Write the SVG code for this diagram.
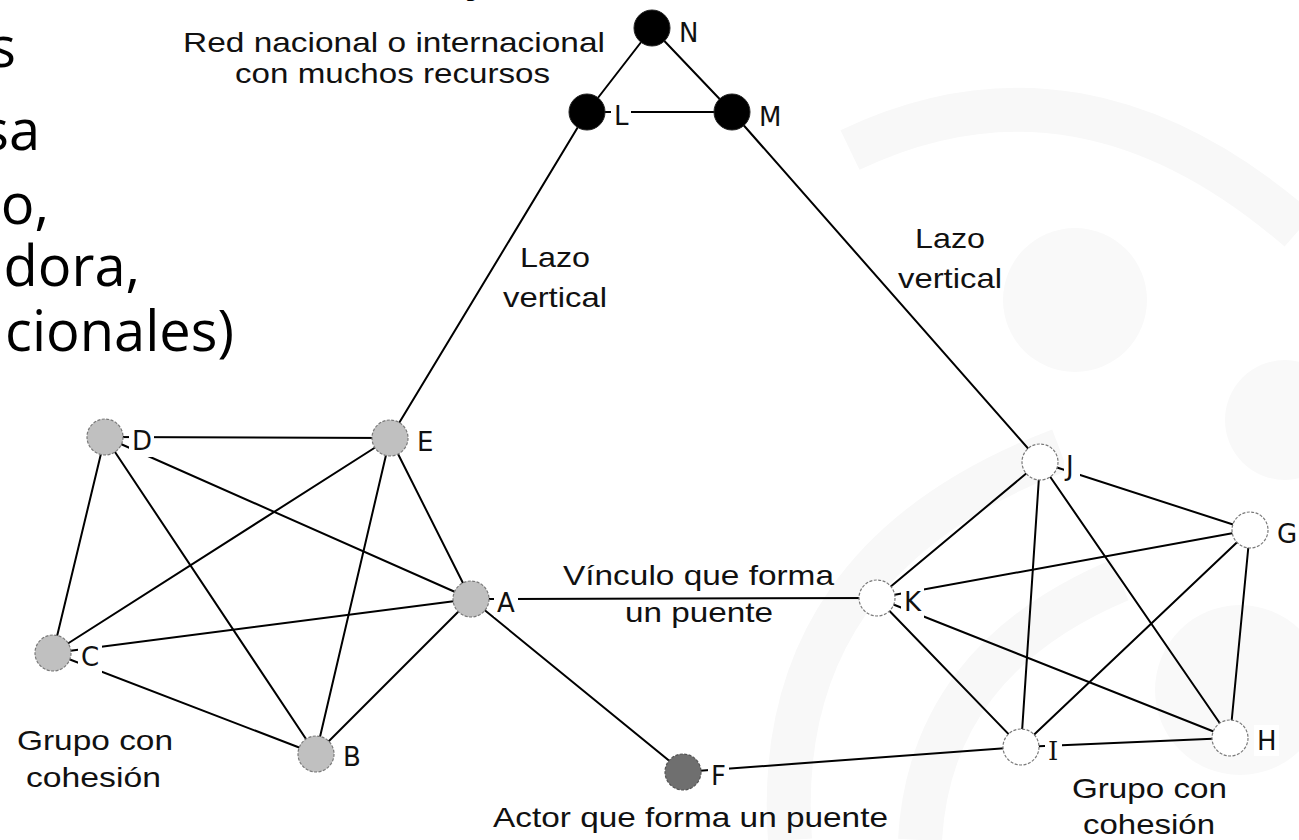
<svg xmlns="http://www.w3.org/2000/svg" width="1299" height="840" viewBox="0 0 1299 840">
<style>
.edge{stroke:#000;stroke-width:2;fill:none;stroke-linecap:round}
.nb{fill:#000;stroke:#222;stroke-width:1}
.ng{fill:#c0c0c0;stroke:#7a7a7a;stroke-width:1.2;stroke-dasharray:3 1.5}
.nd{fill:#6f6f6f;stroke:#555;stroke-width:1.2;stroke-dasharray:3 1.5}
.nw{fill:#fff;stroke:#7a7a7a;stroke-width:1.2;stroke-dasharray:3 1.5}
.lbg{fill:#fff}
.lbl{font-family:"DejaVu Sans","Liberation Sans",sans-serif;font-size:26px;fill:#111}
.lbls{font-family:"DejaVu Serif","Liberation Serif",serif;font-size:26px;fill:#111}
.cap{font-family:"Liberation Sans",Arial,sans-serif;font-size:28px;fill:#111}
.big{font-family:"Open Sans","Noto Sans",sans-serif;font-size:56px;fill:#000;text-anchor:end}
.wm{fill:none;stroke:#f8f8f8;stroke-width:44}
.wmf{fill:#f9f9f9}
</style>
<rect width="1299" height="840" fill="#fff"/>
<g id="watermark">
<path class="wm" d="M 850 150 Q 1080 40 1299 230"/>
<circle class="wmf" cx="1075" cy="300" r="72"/>
<path class="wm" d="M 790 840 Q 770 560 1060 450"/>
<path class="wm" d="M 920 840 Q 930 660 1120 580"/>
<circle class="wmf" cx="1285" cy="420" r="60"/>
<circle class="wmf" cx="1240" cy="690" r="85"/>
</g>
<g id="left-text">
<text class="big" x="16" y="67">s</text>
<text class="big" x="40" y="150">sa</text>
<text class="big" x="49" y="224">o,</text>
<text class="big" x="140" y="286">ndora,</text>
<text class="big" x="234" y="351">cionales)</text>
<text x="476" y="-7" style="font-family:'Liberation Sans',sans-serif;font-size:40px;font-weight:bold;text-anchor:middle">y</text>
</g>
<g id="connectors">
<line class="edge" x1="652" y1="28" x2="587" y2="112"/>
<line class="edge" x1="652" y1="28" x2="732" y2="112"/>
<line class="edge" x1="587" y1="112" x2="732" y2="112"/>
<line class="edge" x1="587" y1="112" x2="390" y2="438"/>
<line class="edge" x1="732" y1="112" x2="1040" y2="462"/>
<line class="edge" x1="105" y1="437" x2="390" y2="438"/>
<line class="edge" x1="105" y1="437" x2="53" y2="653"/>
<line class="edge" x1="105" y1="437" x2="316" y2="754"/>
<line class="edge" x1="105" y1="437" x2="471" y2="599"/>
<line class="edge" x1="390" y1="438" x2="53" y2="653"/>
<line class="edge" x1="390" y1="438" x2="316" y2="754"/>
<line class="edge" x1="390" y1="438" x2="471" y2="599"/>
<line class="edge" x1="53" y1="653" x2="471" y2="599"/>
<line class="edge" x1="53" y1="653" x2="316" y2="754"/>
<line class="edge" x1="471" y1="599" x2="316" y2="754"/>
<line class="edge" x1="471" y1="599" x2="877" y2="598"/>
<line class="edge" x1="471" y1="599" x2="683" y2="772"/>
<line class="edge" x1="683" y1="772" x2="1021" y2="747"/>
<line class="edge" x1="1040" y1="462" x2="877" y2="598"/>
<line class="edge" x1="1040" y1="462" x2="1021" y2="747"/>
<line class="edge" x1="1040" y1="462" x2="1230" y2="738"/>
<line class="edge" x1="1040" y1="462" x2="1250" y2="530"/>
<line class="edge" x1="877" y1="598" x2="1250" y2="530"/>
<line class="edge" x1="877" y1="598" x2="1021" y2="747"/>
<line class="edge" x1="877" y1="598" x2="1230" y2="738"/>
<line class="edge" x1="1250" y1="530" x2="1021" y2="747"/>
<line class="edge" x1="1250" y1="530" x2="1230" y2="738"/>
<line class="edge" x1="1021" y1="747" x2="1230" y2="738"/>
</g>
<g id="node-N"><circle class="nb" cx="652" cy="28" r="18"/><rect class="lbg" x="676" y="15" width="25" height="31"/><text class="lbl" x="679" y="42">N</text></g>
<g id="node-L"><circle class="nb" cx="587" cy="112" r="18"/><rect class="lbg" x="611" y="99" width="20" height="31"/><text class="lbl" x="614" y="125">L</text></g>
<g id="node-M"><circle class="nb" cx="732" cy="112" r="18"/><rect class="lbg" x="756" y="99" width="28" height="31"/><text class="lbl" x="759" y="126">M</text></g>
<g id="node-E"><circle class="ng" cx="390" cy="438" r="18"/><rect class="lbg" x="414" y="425" width="22" height="31"/><text class="lbl" x="417" y="451">E</text></g>
<g id="node-D"><circle class="ng" cx="105" cy="437" r="18"/><rect class="lbg" x="129" y="424" width="25" height="33"/><text class="lbl" x="132" y="450">D</text></g>
<g id="node-A"><circle class="ng" cx="471" cy="599" r="18"/><rect class="lbg" x="494" y="586" width="24" height="31"/><text class="lbl" x="497" y="612">A</text></g>
<g id="node-C"><circle class="ng" cx="53" cy="653" r="18"/><rect class="lbg" x="78" y="638" width="24" height="35"/><text class="lbl" x="81" y="666">C</text></g>
<g id="node-B"><circle class="ng" cx="316" cy="754" r="18"/><rect class="lbg" x="340" y="741" width="23" height="31"/><text class="lbl" x="343" y="766">B</text></g>
<g id="node-F"><circle class="nd" cx="683" cy="772" r="18"/><rect class="lbg" x="708" y="759" width="21" height="31"/><text class="lbl" x="711" y="785">F</text></g>
<g id="node-K"><circle class="nw" cx="877" cy="598" r="18"/><rect class="lbg" x="901" y="583" width="23" height="35"/><text class="lbl" x="904" y="611">K</text></g>
<g id="node-J"><circle class="nw" cx="1040" cy="462" r="18"/><rect class="lbg" x="1064" y="449" width="16" height="31"/><text class="lbl" x="1066" y="475">J</text></g>
<g id="node-G"><circle class="nw" cx="1250" cy="530" r="18"/><rect class="lbg" x="1274" y="517" width="25" height="31"/><text class="lbl" x="1277" y="543">G</text></g>
<g id="node-H"><circle class="nw" cx="1230" cy="738" r="18"/><rect class="lbg" x="1254" y="725" width="25" height="31"/><text class="lbl" x="1257" y="750">H</text></g>
<g id="node-I"><circle class="nw" cx="1021" cy="747" r="18"/><rect class="lbg" x="1045" y="734" width="17" height="31"/><text class="lbls" x="1048" y="760">I</text></g>
<g id="captions">
<text class="cap" x="183" y="52" font-size="26" textLength="422" lengthAdjust="spacingAndGlyphs">Red nacional o internacional</text>
<text class="cap" x="235" y="83" font-size="26" textLength="315" lengthAdjust="spacingAndGlyphs">con muchos recursos</text>
<text class="cap" x="520" y="267" textLength="70" lengthAdjust="spacingAndGlyphs">Lazo</text>
<text class="cap" x="503" y="307" textLength="104" lengthAdjust="spacingAndGlyphs">vertical</text>
<text class="cap" x="915" y="248" textLength="70" lengthAdjust="spacingAndGlyphs">Lazo</text>
<text class="cap" x="898" y="288" textLength="104" lengthAdjust="spacingAndGlyphs">vertical</text>
<text class="cap" x="563" y="585" textLength="271" lengthAdjust="spacingAndGlyphs">Vínculo que forma</text>
<text class="cap" x="625" y="622" textLength="148" lengthAdjust="spacingAndGlyphs">un puente</text>
<text class="cap" x="493" y="827" textLength="395" lengthAdjust="spacingAndGlyphs">Actor que forma un puente</text>
<text class="cap" x="17" y="750" textLength="156" lengthAdjust="spacingAndGlyphs">Grupo con</text>
<text class="cap" x="26" y="787" textLength="135" lengthAdjust="spacingAndGlyphs">cohesión</text>
<text class="cap" x="1072" y="798" textLength="155" lengthAdjust="spacingAndGlyphs">Grupo con</text>
<text class="cap" x="1083" y="834" textLength="132" lengthAdjust="spacingAndGlyphs">cohesión</text>
</g>
</svg>
